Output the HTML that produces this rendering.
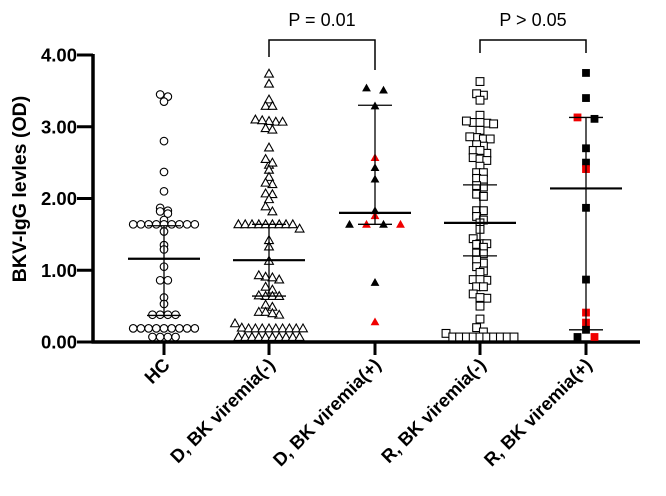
<!DOCTYPE html>
<html><head><meta charset="utf-8"><style>
html,body{margin:0;padding:0;background:#fff;}
svg{display:block;font-family:"Liberation Sans",Arial,sans-serif;}
</style></head><body>
<svg id="chart" width="666" height="496"></svg>
<script>
const categories=["HC","D, BK viremia(-)","D, BK viremia(+)","R, BK viremia(-)","R, BK viremia(+)"];
const yTicks=[0,1,2,3,4];
const yTickLabels=["0.00","1.00","2.00","3.00","4.00"];
const hcValues=[3.42,3.35,3.45,2.80,2.37,2.10,1.87,1.83,1.82,1.79,1.70,1.64,1.64,1.64,1.64,1.64,1.64,1.64,1.64,1.64,1.54,1.35,1.29,1.05,0.86,0.86,0.62,0.53,0.38,0.38,0.38,0.38,0.19,0.19,0.19,0.19,0.19,0.19,0.19,0.19,0.19,0.07,0.07,0.07,0.07];
const dNegValues=[3.74,3.60,3.38,3.29,3.29,3.07,3.10,3.07,3.08,3.09,2.98,2.96,2.71,2.47,2.55,2.50,2.40,2.30,2.20,2.22,2.06,2.07,1.99,1.89,1.82,1.64,1.64,1.64,1.64,1.64,1.64,1.64,1.64,1.64,1.58,1.42,1.33,1.13,0.91,0.87,0.90,0.93,0.77,0.73,0.64,0.64,0.64,0.65,0.49,0.52,0.42,0.38,0.42,0.40,0.26,0.20,0.19,0.19,0.19,0.19,0.19,0.19,0.19,0.19,0.19,0.07,0.07,0.07,0.07,0.07,0.07,0.07,0.07,0.07,0.07];
const dPosValues=[3.51,3.54,3.29,2.57,2.43,2.27,1.83,1.76,1.64,1.64,1.64,1.64,0.83,0.28];
const dPosColors=["k","k","k","r","k","k","k","r","k","r","k","r","k","r"];
const rNegValues=[3.63,3.44,3.46,3.37,3.16,3.06,3.05,3.08,3.06,3.04,2.95,2.85,2.83,2.86,2.83,2.73,2.75,2.67,2.63,2.67,2.57,2.55,2.53,2.45,2.36,2.36,2.28,2.27,2.16,2.18,2.06,2.03,1.83,1.83,1.75,1.70,1.66,1.57,1.44,1.37,1.37,1.36,1.32,1.24,1.23,1.10,1.14,1.05,0.99,0.97,0.86,0.87,0.87,0.77,0.77,0.67,0.58,0.61,0.62,0.50,0.32,0.20,0.14,0.12,0.07,0.07,0.07,0.07,0.07,0.07,0.07,0.07,0.07,0.07];
const rPosValues=[3.75,3.40,3.11,3.13,2.70,2.50,2.41,1.87,0.87,0.41,0.27,0.17,0.07,0.07];
const rPosColors=["k","k","k","r","k","k","r","k","k","r","r","k","k","r"];
const centers=[1.16,1.14,1.80,1.66,2.14];
const errLow=[0.37,0.64,1.64,1.20,0.17];
const errHigh=[1.62,1.64,3.30,2.19,3.13];
const pLabels=["P = 0.01","P > 0.05"];

const NS="http://www.w3.org/2000/svg";
const svg=document.getElementById("chart");
const X0=93,X1=640,Y0=342,Y4=55;
function ys(v){return Y0-(Y0-Y4)*v/4;}
const catX=[164,269,375,480,586];
function xScale(i){return catX[i];}
function mk(tag,attrs,parent){const e=document.createElementNS(NS,tag);for(const k in attrs)e.setAttribute(k,attrs[k]);(parent||svg).appendChild(e);return e;}

function rows(vals,spacing,tol){
  const idx=vals.map((v,i)=>i).sort((a,b)=>vals[b]-vals[a]);
  const out=new Array(vals.length).fill(0);
  let cl=[];
  const flush=()=>{const n=cl.length;cl.forEach((id,k)=>{out[id]=(k-(n-1)/2)*spacing;});cl=[];};
  for(const i of idx){
    if(cl.length&&Math.abs(vals[cl[0]]-vals[i])>tol)flush();
    cl.push(i);
  }
  flush();
  return out;
}

const ax=mk("g",{});


const yl=mk("line",{x1:X0,y1:Y4-1,x2:X0,y2:Y0+1.5,stroke:"#000","stroke-width":3.5},ax);


const xl=mk("line",{x1:X0-1.5,y1:Y0,x2:X1,y2:Y0,stroke:"#000","stroke-width":3.5},ax);


yTicks.forEach((t,i)=>{
  const y=ys(t);
  const tk=mk("line",{x1:X0-16,y1:y,x2:X0,y2:y,stroke:"#000","stroke-width":3},ax);
  
  
  const tx=mk("text",{x:X0-16,y:y+6.5,"text-anchor":"end","font-size":18.5,"font-weight":"bold"},ax);
  tx.textContent=yTickLabels[i];
  
  
});
const yt=mk("text",{x:0,y:0,transform:"translate(26,189) rotate(-90)","text-anchor":"middle","font-size":19.5,"font-weight":"bold"});
yt.textContent="BKV-IgG levles (OD)";


categories.forEach((c,i)=>{
  const x=xScale(i);
  const tk=mk("line",{x1:x,y1:Y0,x2:x,y2:Y0+13,stroke:"#000","stroke-width":3},ax);
  
  
  const tx=mk("text",{x:0,y:0,transform:`translate(${x+7},${Y0+24}) rotate(-45)`,"text-anchor":"end","font-size":18.5,"font-weight":"bold"},ax);
  tx.textContent=c;
  
  
});

function plotGroup(i,vals,shape,colors,spacing,tol){
  const dxs=rows(vals,spacing,tol);
  const g=mk("g",{});
  
  
  vals.forEach((v,j)=>{
    const x=xScale(i)+dxs[j],y=ys(v);
    let e;
    const col=colors?(colors[j]==="r"?"#f00000":"#000"):null;
    if(shape==="circle")e=mk("circle",{cx:x,cy:y,r:3.8,fill:"#fff",stroke:"#000","stroke-width":1.1},g);
    else if(shape==="tri")e=mk("polygon",{points:`${x},${y-4.4} ${x-4.4},${y+3.4} ${x+4.4},${y+3.4}`,fill:col||"#fff",stroke:col?"none":"#000","stroke-width":1.1},g);
    else e=mk("rect",{x:x-3.9,y:y-3.9,width:7.8,height:7.8,fill:col||"#fff",stroke:col?"none":"#000","stroke-width":1.1},g);
    
    
  });
}
plotGroup(0,hcValues,"circle",null,7.7,0.045);
plotGroup(1,dNegValues,"tri",null,6.8,0.07);
plotGroup(2,dPosValues,"tri",dPosColors,17,0.045);
plotGroup(3,rNegValues,"square",null,6.8,0.07);
plotGroup(4,rPosValues,"square",rPosColors,17,0.045);

centers.forEach((m,i)=>{
  const x=xScale(i);
  const g=mk("g",{});
  
  
  mk("line",{x1:x,y1:ys(errLow[i]),x2:x,y2:ys(errHigh[i]),stroke:"#000","stroke-width":1.3},g);
  mk("line",{x1:x-17,y1:ys(errLow[i]),x2:x+17,y2:ys(errLow[i]),stroke:"#000","stroke-width":1.3},g);
  mk("line",{x1:x-17,y1:ys(errHigh[i]),x2:x+17,y2:ys(errHigh[i]),stroke:"#000","stroke-width":1.3},g);
  mk("line",{x1:x-36,y1:ys(m),x2:x+36,y2:ys(m),stroke:"#000","stroke-width":2.2},g);
});

[[1,2,57,70],[3,4,53,53]].forEach((b,k)=>{
  const g=mk("g",{});
  
  
  const xa=xScale(b[0]),xb=xScale(b[1]);
  mk("polyline",{points:`${xa},${b[2]} ${xa},40 ${xb},40 ${xb},${b[3]}`,fill:"none",stroke:"#000","stroke-width":1.5},g);
  const t=mk("text",{x:(xa+xb)/2,y:26,"text-anchor":"middle","font-size":18},g);
  t.textContent=pLabels[k];
  
  
});
</script>
</body></html>
